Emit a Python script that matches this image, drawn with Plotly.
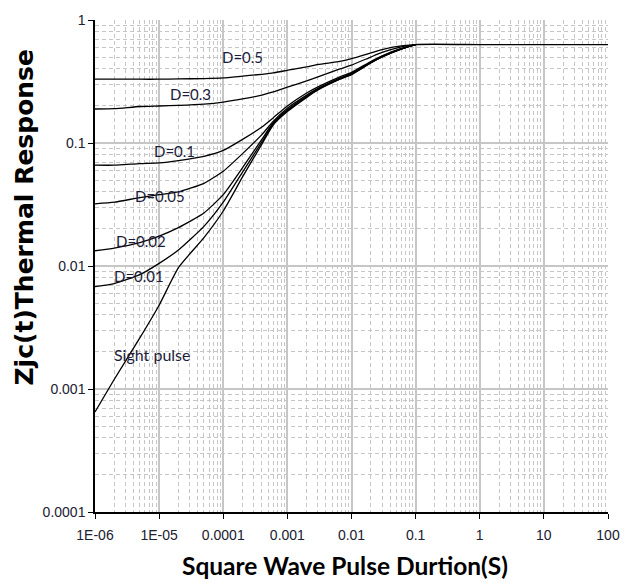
import plotly.graph_objects as go

# Pulse duration (s) at which each curve is sampled
pulse_s = [1e-6, 2e-6, 5e-6, 1e-5, 2e-5, 5e-5, 1e-4, 2e-4, 4e-4, 6e-4,
           1e-3, 2e-3, 3e-3, 6.6e-3, 1e-2, 2e-2, 3e-2, 6e-2, 1e-1]

# Normalised transient thermal response for each duty cycle
z_d05 = [0.33, 0.33, 0.33, 0.33, 0.332, 0.334, 0.338, 0.35, 0.362, 0.372,
         0.39, 0.415, 0.435, 0.46, 0.485, 0.54, 0.575, 0.615, 0.63]
z_d03 = [0.189, 0.19, 0.198, 0.2, 0.202, 0.207, 0.215, 0.228, 0.245, 0.26,
         0.284, 0.32, 0.345, 0.40, 0.43, 0.50, 0.545, 0.605, 0.63]
z_d01 = [0.066, 0.066, 0.068, 0.069, 0.072, 0.078, 0.087, 0.107, 0.135, 0.16,
         0.20, 0.255, 0.286, 0.345, 0.375, 0.46, 0.512, 0.588, 0.63]
z_d005 = [0.032, 0.033, 0.036, 0.038, 0.040, 0.047, 0.059, 0.082, 0.117, 0.15,
          0.192, 0.245, 0.278, 0.337, 0.368, 0.455, 0.507, 0.584, 0.63]
z_d002 = [0.0133, 0.014, 0.0155, 0.0175, 0.0205, 0.027, 0.038, 0.063, 0.107, 0.146,
          0.186, 0.24, 0.274, 0.334, 0.364, 0.452, 0.504, 0.582, 0.63]
z_d001 = [0.0068, 0.0072, 0.0085, 0.0105, 0.0135, 0.021, 0.033, 0.058, 0.102, 0.143,
          0.183, 0.237, 0.272, 0.332, 0.362, 0.45, 0.502, 0.581, 0.63]

# Single pulse curve, continuing flat to 100 s
single_s = pulse_s + [1.0, 10.0, 100.0]
z_single = [0.00065, 0.0012, 0.0026, 0.0048, 0.0097, 0.017, 0.028, 0.053, 0.098, 0.14,
            0.18, 0.235, 0.27, 0.33, 0.36, 0.448, 0.50, 0.58, 0.63,
            0.63, 0.63, 0.63]

series = [
    ("D=0.5", pulse_s, z_d05),
    ("D=0.3", pulse_s, z_d03),
    ("D=0.1", pulse_s, z_d01),
    ("D=0.05", pulse_s, z_d005),
    ("D=0.02", pulse_s, z_d002),
    ("D=0.01", pulse_s, z_d001),
    ("Sight pulse", single_s, z_single),
]

# Curve label placement, in log10 axis units (x, y, font size)
label_pos = {
    "D=0.5": (-3.695, -0.303, 15),
    "D=0.3": (-4.504, -0.602, 15),
    "D=0.1": (-4.763, -1.063, 15),
    "D=0.05": (-4.992, -1.434, 15),
    "D=0.02": (-5.282, -1.798, 15),
    "D=0.01": (-5.313, -2.081, 15),
    "Sight pulse": (-5.115, -2.719, 16),
}

x_ticks = [1e-6, 1e-5, 1e-4, 1e-3, 1e-2, 1e-1, 1, 10, 100]
x_tick_text = ["1E-06", "1E-05", "0.0001", "0.001", "0.01", "0.1", "1", "10", "100"]
y_ticks = [1e-4, 1e-3, 1e-2, 1e-1, 1]
y_tick_text = ["0.0001", "0.001", "0.01", "0.1", "1"]

fig = go.Figure()
for name, xs, ys in series:
    fig.add_trace(go.Scatter(x=xs, y=ys, mode="lines", name=name,
                             line=dict(color="black", width=1.3,
                                       shape="spline", smoothing=0.5),
                             showlegend=False, hoverinfo="skip"))

for name, (lx, ly, fs) in label_pos.items():
    fig.add_annotation(x=lx, y=ly, text=name,
                       showarrow=False, xanchor="center", yanchor="middle",
                       font=dict(family="Lato", size=fs, color="#1c1c3a"))

# Axis titles
fig.add_annotation(text="<b>Square Wave Pulse Durtion(S)</b>",
                   xref="paper", yref="paper", x=0.487, y=-0.109,
                   xanchor="center", yanchor="middle", showarrow=False,
                   font=dict(family="Lato", size=24.5, color="black"))
fig.add_annotation(text="<b>Zjc(t)Thermal Response</b>",
                   xref="paper", yref="paper", x=-0.137, y=0.598,
                   xanchor="center", yanchor="middle", showarrow=False,
                   textangle=-90,
                   font=dict(family="DejaVu Sans", size=25, color="black"))

grid_col = "#c6c6c6"
axis_common = dict(
    type="log",
    showline=True, linecolor="black", linewidth=1.5,
    ticks="outside", ticklen=5, tickcolor="black", tickwidth=1.2,
    showgrid=True, gridcolor=grid_col, gridwidth=2,
    minor=dict(dtick="D1", showgrid=True, gridcolor=grid_col,
               griddash="4px,3px", gridwidth=1, ticks=""),
    tickfont=dict(family="Liberation Sans", size=14, color="#202030"),
    zeroline=False, mirror=False,
)

fig.update_xaxes(range=[-6, 2.00002], tickmode="array", tickvals=x_ticks,
                 ticktext=x_tick_text, ticklabelstandoff=4, **axis_common)
fig.update_yaxes(range=[-4, 0.00002], tickmode="array", tickvals=y_ticks,
                 ticktext=y_tick_text, **axis_common)

fig.update_layout(
    width=632, height=583,
    margin=dict(l=95, r=13, t=17, b=71),
    paper_bgcolor="white", plot_bgcolor="white",
)

fig.write_html("out.html")
